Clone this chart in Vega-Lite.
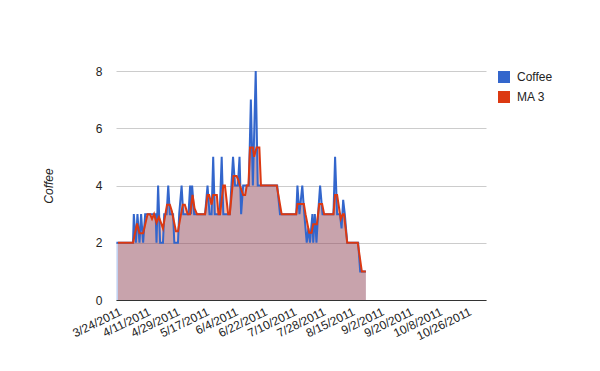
{
  "$schema": "https://vega.github.io/schema/vega-lite/v6.json",
  "width": 370,
  "height": 229,
  "autosize": "none",
  "padding": {"left": 116, "top": 71, "right": 114, "bottom": 71},
  "background": "white",
  "config": {"view": {"stroke": null}, "font": "Liberation Sans"},
  "data": {"values": [
    {"date": "2011-03-23T00:00:00", "series": "Coffee", "value": 2},
    {"date": "2011-04-02T06:00:00", "series": "Coffee", "value": 2},
    {"date": "2011-04-02T18:00:00", "series": "Coffee", "value": 3},
    {"date": "2011-04-04T00:00:00", "series": "Coffee", "value": 2},
    {"date": "2011-04-05T00:00:00", "series": "Coffee", "value": 3},
    {"date": "2011-04-06T06:00:00", "series": "Coffee", "value": 2},
    {"date": "2011-04-07T06:00:00", "series": "Coffee", "value": 3},
    {"date": "2011-04-08T12:00:00", "series": "Coffee", "value": 2},
    {"date": "2011-04-09T18:00:00", "series": "Coffee", "value": 3},
    {"date": "2011-04-13T12:00:00", "series": "Coffee", "value": 3},
    {"date": "2011-04-16T06:00:00", "series": "Coffee", "value": 3},
    {"date": "2011-04-16T18:00:00", "series": "Coffee", "value": 2},
    {"date": "2011-04-17T18:00:00", "series": "Coffee", "value": 4},
    {"date": "2011-04-19T00:00:00", "series": "Coffee", "value": 2},
    {"date": "2011-04-20T18:00:00", "series": "Coffee", "value": 2},
    {"date": "2011-04-21T12:00:00", "series": "Coffee", "value": 3},
    {"date": "2011-04-23T00:00:00", "series": "Coffee", "value": 3},
    {"date": "2011-04-24T00:00:00", "series": "Coffee", "value": 4},
    {"date": "2011-04-25T00:00:00", "series": "Coffee", "value": 3},
    {"date": "2011-04-27T00:00:00", "series": "Coffee", "value": 3},
    {"date": "2011-04-27T18:00:00", "series": "Coffee", "value": 2},
    {"date": "2011-04-30T00:00:00", "series": "Coffee", "value": 2},
    {"date": "2011-04-30T18:00:00", "series": "Coffee", "value": 3},
    {"date": "2011-05-02T06:00:00", "series": "Coffee", "value": 4},
    {"date": "2011-05-03T06:00:00", "series": "Coffee", "value": 3},
    {"date": "2011-05-06T12:00:00", "series": "Coffee", "value": 3},
    {"date": "2011-05-07T12:00:00", "series": "Coffee", "value": 4},
    {"date": "2011-05-08T00:00:00", "series": "Coffee", "value": 3},
    {"date": "2011-05-08T18:00:00", "series": "Coffee", "value": 4},
    {"date": "2011-05-10T00:00:00", "series": "Coffee", "value": 3},
    {"date": "2011-05-16T18:00:00", "series": "Coffee", "value": 3},
    {"date": "2011-05-18T06:00:00", "series": "Coffee", "value": 4},
    {"date": "2011-05-19T12:00:00", "series": "Coffee", "value": 3},
    {"date": "2011-05-20T18:00:00", "series": "Coffee", "value": 3},
    {"date": "2011-05-21T18:00:00", "series": "Coffee", "value": 5},
    {"date": "2011-05-22T18:00:00", "series": "Coffee", "value": 3},
    {"date": "2011-05-25T18:00:00", "series": "Coffee", "value": 3},
    {"date": "2011-05-27T00:00:00", "series": "Coffee", "value": 5},
    {"date": "2011-05-28T00:00:00", "series": "Coffee", "value": 3},
    {"date": "2011-06-01T00:00:00", "series": "Coffee", "value": 3},
    {"date": "2011-06-03T00:00:00", "series": "Coffee", "value": 5},
    {"date": "2011-06-04T06:00:00", "series": "Coffee", "value": 4},
    {"date": "2011-06-06T00:00:00", "series": "Coffee", "value": 4},
    {"date": "2011-06-07T00:00:00", "series": "Coffee", "value": 5},
    {"date": "2011-06-08T00:00:00", "series": "Coffee", "value": 3},
    {"date": "2011-06-09T06:00:00", "series": "Coffee", "value": 4},
    {"date": "2011-06-12T18:00:00", "series": "Coffee", "value": 4},
    {"date": "2011-06-14T00:00:00", "series": "Coffee", "value": 7},
    {"date": "2011-06-15T06:00:00", "series": "Coffee", "value": 4},
    {"date": "2011-06-17T00:00:00", "series": "Coffee", "value": 8},
    {"date": "2011-06-18T06:00:00", "series": "Coffee", "value": 4},
    {"date": "2011-06-30T06:00:00", "series": "Coffee", "value": 4},
    {"date": "2011-07-02T00:00:00", "series": "Coffee", "value": 3},
    {"date": "2011-07-12T00:00:00", "series": "Coffee", "value": 3},
    {"date": "2011-07-12T18:00:00", "series": "Coffee", "value": 4},
    {"date": "2011-07-14T00:00:00", "series": "Coffee", "value": 3},
    {"date": "2011-07-15T18:00:00", "series": "Coffee", "value": 4},
    {"date": "2011-07-17T00:00:00", "series": "Coffee", "value": 3},
    {"date": "2011-07-18T12:00:00", "series": "Coffee", "value": 2},
    {"date": "2011-07-19T12:00:00", "series": "Coffee", "value": 2.5},
    {"date": "2011-07-20T12:00:00", "series": "Coffee", "value": 2},
    {"date": "2011-07-22T00:00:00", "series": "Coffee", "value": 3},
    {"date": "2011-07-22T12:00:00", "series": "Coffee", "value": 2},
    {"date": "2011-07-23T12:00:00", "series": "Coffee", "value": 3},
    {"date": "2011-07-24T12:00:00", "series": "Coffee", "value": 2},
    {"date": "2011-07-25T12:00:00", "series": "Coffee", "value": 3},
    {"date": "2011-07-26T18:00:00", "series": "Coffee", "value": 4},
    {"date": "2011-07-28T06:00:00", "series": "Coffee", "value": 3},
    {"date": "2011-08-04T00:00:00", "series": "Coffee", "value": 3},
    {"date": "2011-08-05T00:00:00", "series": "Coffee", "value": 5},
    {"date": "2011-08-06T06:00:00", "series": "Coffee", "value": 3},
    {"date": "2011-08-08T00:00:00", "series": "Coffee", "value": 3},
    {"date": "2011-08-09T00:00:00", "series": "Coffee", "value": 2.5},
    {"date": "2011-08-10T00:00:00", "series": "Coffee", "value": 3.5},
    {"date": "2011-08-11T00:00:00", "series": "Coffee", "value": 3},
    {"date": "2011-08-12T12:00:00", "series": "Coffee", "value": 2},
    {"date": "2011-08-19T06:00:00", "series": "Coffee", "value": 2},
    {"date": "2011-08-20T12:00:00", "series": "Coffee", "value": 1},
    {"date": "2011-08-24T00:00:00", "series": "Coffee", "value": 1},
    {"date": "2011-03-24T00:00:00", "series": "MA 3", "value": 2},
    {"date": "2011-04-02T06:00:00", "series": "MA 3", "value": 2},
    {"date": "2011-04-04T18:00:00", "series": "MA 3", "value": 2.67},
    {"date": "2011-04-06T06:00:00", "series": "MA 3", "value": 2.33},
    {"date": "2011-04-08T12:00:00", "series": "MA 3", "value": 2.33},
    {"date": "2011-04-11T06:00:00", "series": "MA 3", "value": 3},
    {"date": "2011-04-12T18:00:00", "series": "MA 3", "value": 3},
    {"date": "2011-04-14T00:00:00", "series": "MA 3", "value": 2.83},
    {"date": "2011-04-15T06:00:00", "series": "MA 3", "value": 3},
    {"date": "2011-04-16T18:00:00", "series": "MA 3", "value": 2.7},
    {"date": "2011-04-18T06:00:00", "series": "MA 3", "value": 2.9},
    {"date": "2011-04-20T18:00:00", "series": "MA 3", "value": 2.5},
    {"date": "2011-04-23T06:00:00", "series": "MA 3", "value": 3.33},
    {"date": "2011-04-25T00:00:00", "series": "MA 3", "value": 3.33},
    {"date": "2011-04-26T06:00:00", "series": "MA 3", "value": 3.1},
    {"date": "2011-04-28T18:00:00", "series": "MA 3", "value": 2.4},
    {"date": "2011-04-30T00:00:00", "series": "MA 3", "value": 2.4},
    {"date": "2011-05-01T06:00:00", "series": "MA 3", "value": 2.8},
    {"date": "2011-05-03T00:00:00", "series": "MA 3", "value": 3.33},
    {"date": "2011-05-04T06:00:00", "series": "MA 3", "value": 3.33},
    {"date": "2011-05-06T00:00:00", "series": "MA 3", "value": 3},
    {"date": "2011-05-07T12:00:00", "series": "MA 3", "value": 3},
    {"date": "2011-05-09T00:00:00", "series": "MA 3", "value": 3.67},
    {"date": "2011-05-10T06:00:00", "series": "MA 3", "value": 3.2},
    {"date": "2011-05-11T18:00:00", "series": "MA 3", "value": 3},
    {"date": "2011-05-16T18:00:00", "series": "MA 3", "value": 3},
    {"date": "2011-05-18T06:00:00", "series": "MA 3", "value": 3.67},
    {"date": "2011-05-19T06:00:00", "series": "MA 3", "value": 3.67},
    {"date": "2011-05-20T18:00:00", "series": "MA 3", "value": 3.33},
    {"date": "2011-05-21T18:00:00", "series": "MA 3", "value": 3.67},
    {"date": "2011-05-24T00:00:00", "series": "MA 3", "value": 3.67},
    {"date": "2011-05-25T00:00:00", "series": "MA 3", "value": 3},
    {"date": "2011-05-26T00:00:00", "series": "MA 3", "value": 3},
    {"date": "2011-05-28T00:00:00", "series": "MA 3", "value": 4},
    {"date": "2011-05-29T00:00:00", "series": "MA 3", "value": 4},
    {"date": "2011-05-31T00:00:00", "series": "MA 3", "value": 3},
    {"date": "2011-06-01T00:00:00", "series": "MA 3", "value": 3},
    {"date": "2011-06-03T06:00:00", "series": "MA 3", "value": 4.33},
    {"date": "2011-06-05T06:00:00", "series": "MA 3", "value": 4.33},
    {"date": "2011-06-06T06:00:00", "series": "MA 3", "value": 4.2},
    {"date": "2011-06-07T06:00:00", "series": "MA 3", "value": 4},
    {"date": "2011-06-09T06:00:00", "series": "MA 3", "value": 3.67},
    {"date": "2011-06-10T12:00:00", "series": "MA 3", "value": 3.67},
    {"date": "2011-06-11T12:00:00", "series": "MA 3", "value": 4},
    {"date": "2011-06-12T12:00:00", "series": "MA 3", "value": 4},
    {"date": "2011-06-13T12:00:00", "series": "MA 3", "value": 5.33},
    {"date": "2011-06-15T06:00:00", "series": "MA 3", "value": 5.33},
    {"date": "2011-06-16T00:00:00", "series": "MA 3", "value": 5},
    {"date": "2011-06-17T12:00:00", "series": "MA 3", "value": 5.33},
    {"date": "2011-06-19T06:00:00", "series": "MA 3", "value": 5.33},
    {"date": "2011-06-20T06:00:00", "series": "MA 3", "value": 4},
    {"date": "2011-06-30T00:00:00", "series": "MA 3", "value": 4},
    {"date": "2011-07-03T00:00:00", "series": "MA 3", "value": 3},
    {"date": "2011-07-12T00:00:00", "series": "MA 3", "value": 3},
    {"date": "2011-07-12T18:00:00", "series": "MA 3", "value": 3.35},
    {"date": "2011-07-16T18:00:00", "series": "MA 3", "value": 3.35},
    {"date": "2011-07-17T18:00:00", "series": "MA 3", "value": 3},
    {"date": "2011-07-20T00:00:00", "series": "MA 3", "value": 2.35},
    {"date": "2011-07-21T12:00:00", "series": "MA 3", "value": 2.35},
    {"date": "2011-07-22T12:00:00", "series": "MA 3", "value": 2.65},
    {"date": "2011-07-24T18:00:00", "series": "MA 3", "value": 2.65},
    {"date": "2011-07-26T06:00:00", "series": "MA 3", "value": 3.35},
    {"date": "2011-07-28T00:00:00", "series": "MA 3", "value": 3.35},
    {"date": "2011-07-29T06:00:00", "series": "MA 3", "value": 3},
    {"date": "2011-08-04T00:00:00", "series": "MA 3", "value": 3},
    {"date": "2011-08-05T00:00:00", "series": "MA 3", "value": 3.67},
    {"date": "2011-08-06T06:00:00", "series": "MA 3", "value": 3.67},
    {"date": "2011-08-08T12:00:00", "series": "MA 3", "value": 2.83},
    {"date": "2011-08-09T18:00:00", "series": "MA 3", "value": 3},
    {"date": "2011-08-10T12:00:00", "series": "MA 3", "value": 3},
    {"date": "2011-08-12T12:00:00", "series": "MA 3", "value": 2},
    {"date": "2011-08-19T00:00:00", "series": "MA 3", "value": 2},
    {"date": "2011-08-21T12:00:00", "series": "MA 3", "value": 1},
    {"date": "2011-08-24T00:00:00", "series": "MA 3", "value": 1}
  ]},
  "encoding": {
    "x": {
      "field": "date", "type": "temporal",
      "scale": {"domain": [
        {"year": 2011, "month": 3, "date": 22, "hours": 18},
        {"year": 2011, "month": 11, "date": 6, "hours": 4}
      ]},
      "axis": {
        "title": null,
        "values": [
          {"year": 2011, "month": 3, "date": 24},
          {"year": 2011, "month": 4, "date": 11},
          {"year": 2011, "month": 4, "date": 29},
          {"year": 2011, "month": 5, "date": 17},
          {"year": 2011, "month": 6, "date": 4},
          {"year": 2011, "month": 6, "date": 22},
          {"year": 2011, "month": 7, "date": 10},
          {"year": 2011, "month": 7, "date": 28},
          {"year": 2011, "month": 8, "date": 15},
          {"year": 2011, "month": 9, "date": 2},
          {"year": 2011, "month": 9, "date": 20},
          {"year": 2011, "month": 10, "date": 8},
          {"year": 2011, "month": 10, "date": 26}
        ],
        "format": "%-m/%-d/%Y",
        "labelAngle": -26,
        "labelAlign": "right",
        "labelBaseline": "top",
        "labelPadding": 6,
        "labelFontSize": 12,
        "labelColor": "#222222",
        "labelOverlap": false,
        "labelFlush": false,
        "ticks": false,
        "tickSize": 0,
        "grid": false,
        "domainColor": "#333333",
        "domainWidth": 1
      }
    },
    "y": {
      "field": "value", "type": "quantitative", "stack": null,
      "scale": {"domain": [0, 8], "nice": false},
      "axis": {
        "title": "Coffee",
        "titleFontStyle": "italic",
        "titleFontWeight": "normal",
        "titleFontSize": 12,
        "titleColor": "#222222",
        "titlePadding": 40,
        "values": [0, 2, 4, 6, 8],
        "labelFontSize": 12,
        "labelColor": "#222222",
        "labelPadding": 14,
        "ticks": false,
        "tickSize": 0,
        "domain": false,
        "grid": true,
        "gridColor": "#cccccc",
        "gridWidth": 1
      }
    },
    "color": {
      "field": "series", "type": "nominal",
      "scale": {"domain": ["Coffee", "MA 3"], "range": ["#3366cc", "#dc3912"]},
      "legend": {
        "title": null,
        "orient": "right",
        "offset": 12,
        "padding": 0,
        "symbolType": "square",
        "symbolSize": 144,
        "symbolOpacity": 1,
        "symbolStrokeWidth": 0,
        "labelFontSize": 12,
        "labelColor": "#222222",
        "labelOffset": 7,
        "rowPadding": 8,
        "encode": {
          "symbols": {"update": {
            "fill": {"scale": "color", "field": "value"},
            "fillOpacity": {"value": 1},
            "opacity": {"value": 1},
            "strokeWidth": {"value": 0}
          }}
        }
      }
    }
  },
  "layer": [
    {"mark": {"type": "area", "fillOpacity": 0.3}},
    {"mark": {"type": "line", "strokeWidth": 2}}
  ]
}
